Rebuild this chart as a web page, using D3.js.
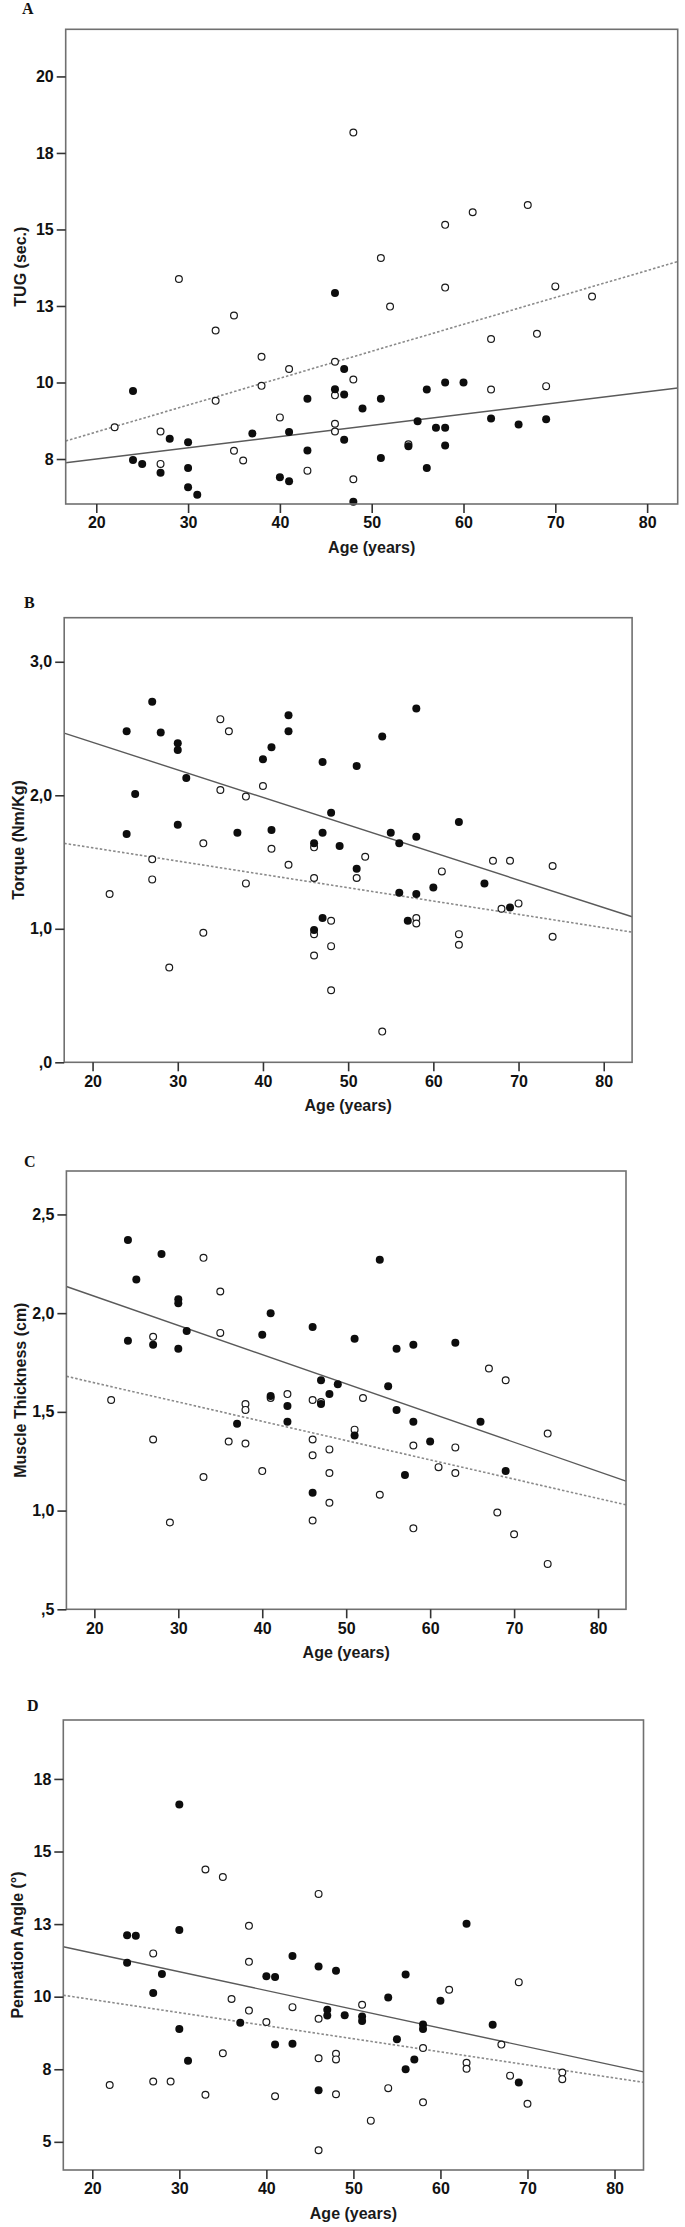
<!DOCTYPE html>
<html>
<head>
<meta charset="utf-8">
<script src="https://cdn.jsdelivr.net/npm/d3@7"></script>
<style>
  html, body { margin: 0; padding: 0; background: #fff; }
  svg { display: block; }
</style>
</head>
<body>
<svg id="chart" width="685" height="2227"></svg>
<script>
// ---------------- DATA ----------------
const ageTicks = [20, 30, 40, 50, 60, 70, 80];

// Panel A – TUG (sec.)
const tugTicks = [7.5, 10, 12.5, 15, 17.5, 20];
const tugTickLabels = ["8", "10", "13", "15", "18", "20"];
const tugFilled = [[24,9.72],[24,7.47],[25,7.34],[27,7.05],[28,8.16],[30,8.05],[30,7.21],[30,6.58],[31,6.33],
  [37,8.33],[40,6.9],[41,6.77],[41,8.38],[43,9.47],[43,7.78],[46,12.92],[46,9.78],[47,10.44],[47,9.61],[47,8.13],
  [48,6.1],[49,9.15],[51,9.47],[51,7.53],[54,7.92],[55,8.73],[56,9.77],[56,7.21],[57,8.52],[58,8.52],[58,7.94],
  [58,10.0],[60,10.0],[63,8.82],[66,8.63],[69,8.8]];
const tugOpen = [[29,13.38],[33,11.7],[35,12.19],[38,10.84],[38,9.89],[33,9.4],[41,10.44],[46,10.68],[48,10.1],
  [46,9.58],[40,8.86],[46,8.65],[46,8.4],[22,8.54],[27,8.4],[27,7.34],[35,7.77],[36,7.45],[43,7.12],[48,6.84],
  [52,12.48],[58,13.1],[70,13.14],[74,12.81],[63,11.42],[68,11.59],[63,9.77],[69,9.88],[54,7.98],
  [48,18.17],[51,14.07],[58,15.15],[61,15.56],[67,15.8]];
const tugFitFilled = [[16.67,7.38],[83.33,9.82]];
const tugFitOpen = [[16.67,8.09],[83.33,13.95]];

// Panel B – Torque (Nm/Kg)
const torqueTicks = [0, 1, 2, 3];
const torqueTickLabels = [",0", "1,0", "2,0", "3,0"];
const torqueFilled = [[27,2.70],[24,2.48],[28,2.47],[30,2.39],[30,2.34],[31,2.13],[25,2.01],[30,1.78],[24,1.71],
  [37,1.72],[41,2.36],[40,2.27],[43,2.6],[43,2.48],[41,1.74],[47,2.25],[47,1.72],[48,1.87],[51,2.22],[54,2.44],
  [58,2.65],[55,1.72],[58,1.69],[63,1.80],[46,1.64],[49,1.62],[51,1.45],[56,1.64],[56,1.27],[58,1.26],[60,1.31],
  [66,1.34],[69,1.16],[47,1.08],[46,0.99],[57,1.06]];
const torqueOpen = [[35,2.57],[36,2.48],[35,2.04],[38,1.99],[40,2.07],[33,1.64],[41,1.6],[46,1.61],[27,1.52],
  [43,1.48],[52,1.54],[27,1.37],[38,1.34],[46,1.38],[51,1.38],[22,1.26],[61,1.43],[67,1.51],[69,1.51],[74,1.47],
  [68,1.15],[70,1.19],[48,1.06],[58,1.08],[58,1.04],[33,0.97],[46,0.96],[63,0.96],[63,0.88],[48,0.87],[46,0.80],
  [29,0.71],[48,0.54],[54,0.23],[74,0.94]];
const torqueFitFilled = [[16.67,2.465],[83.33,1.09]];
const torqueFitOpen = [[16.67,1.64],[83.33,0.975]];

// Panel C – Muscle Thickness (cm)
const thickTicks = [0.5, 1, 1.5, 2, 2.5];
const thickTickLabels = [",5", "1,0", "1,5", "2,0", "2,5"];
const thickFilled = [[24,2.37],[28,2.30],[25,2.17],[30,2.07],[30,2.05],[31,1.91],[24,1.86],[27,1.84],[30,1.82],
  [41,2.0],[40,1.89],[46,1.93],[51,1.87],[54,2.27],[56,1.82],[58,1.84],[63,1.85],[47,1.66],[49,1.64],[48,1.59],
  [55,1.63],[41,1.58],[47,1.54],[43,1.53],[43,1.45],[37,1.44],[56,1.51],[58,1.45],[66,1.45],[51,1.38],[60,1.35],
  [57,1.18],[69,1.2],[46,1.09]];
const thickOpen = [[33,2.28],[35,2.11],[35,1.90],[27,1.88],[67,1.72],[69,1.66],[22,1.56],[43,1.59],[46,1.56],
  [52,1.57],[41,1.57],[47,1.55],[38,1.54],[38,1.51],[51,1.41],[27,1.36],[36,1.35],[38,1.34],[46,1.36],[48,1.31],
  [46,1.28],[58,1.33],[63,1.32],[61,1.22],[63,1.19],[40,1.2],[48,1.19],[33,1.17],[74,1.39],[54,1.08],[48,1.04],
  [68,0.99],[29,0.94],[46,0.95],[58,0.91],[70,0.88],[74,0.73]];
const thickFitFilled = [[16.67,2.135],[83.33,1.149]];
const thickFitOpen = [[16.67,1.68],[83.33,1.029]];

// Panel D – Pennation Angle (°)
const pennTicks = [5, 7.5, 10, 12.5, 15, 17.5];
const pennTickLabels = ["5", "8", "10", "13", "15", "18"];
const pennFilled = [[30,16.62],[24,12.12],[25,12.1],[30,12.3],[63,12.51],[24,11.17],[28,10.78],[27,10.13],
  [43,11.4],[46,11.04],[48,10.89],[40,10.7],[41,10.68],[56,10.76],[54,9.97],[60,9.86],[47,9.55],[47,9.35],
  [49,9.36],[51,9.32],[51,9.16],[37,9.1],[58,9.04],[58,8.89],[66,9.03],[30,8.89],[55,8.53],[41,8.35],[43,8.38],
  [31,7.79],[57,7.84],[56,7.5],[69,7.04],[46,6.78]];
const pennOpen = [[33,14.38],[35,14.12],[46,13.54],[38,12.44],[27,11.49],[38,11.2],[69,10.5],[61,10.24],[36,9.92],
  [51,9.72],[43,9.64],[38,9.52],[40,9.13],[46,9.24],[35,8.05],[46,7.88],[48,8.03],[48,7.84],[58,8.23],[67,8.35],
  [63,7.72],[63,7.52],[68,7.28],[74,7.39],[74,7.16],[22,6.96],[27,7.08],[29,7.08],[33,6.62],[41,6.57],[48,6.64],
  [54,6.85],[58,6.36],[70,6.31],[52,5.73],[46,4.71]];
const pennFitFilled = [[16.67,11.72],[83.33,7.41]];
const pennFitOpen = [[16.67,10.05],[83.33,7.05]];

// ---------------- LAYOUT ----------------
const ageDomain = [16.67, 83.33];
const panels = [
  { letter: "A", lx: 22, ly: 14, left: 65.7, right: 677.7, top: 29.3, bottom: 504, yDomain: [6.03, 21.54],
    ticks: tugTicks, labels: tugTickLabels, title: "TUG (sec.)",
    filled: tugFilled, open: tugOpen, fitF: tugFitFilled, fitO: tugFitOpen },
  { letter: "B", lx: 24, ly: 608, left: 64.2, right: 632.1, top: 617.7, bottom: 1062.3, yDomain: [0, 3.33],
    ticks: torqueTicks, labels: torqueTickLabels, title: "Torque (Nm/Kg)",
    filled: torqueFilled, open: torqueOpen, fitF: torqueFitFilled, fitO: torqueFitOpen },
  { letter: "C", lx: 24, ly: 1167, left: 66.4, right: 626, top: 1171, bottom: 1609.3, yDomain: [0.5, 2.72],
    ticks: thickTicks, labels: thickTickLabels, title: "Muscle Thickness (cm)",
    filled: thickFilled, open: thickOpen, fitF: thickFitFilled, fitO: thickFitOpen },
  { letter: "D", lx: 27, ly: 1711, left: 63.3, right: 643.5, top: 1720, bottom: 2170, yDomain: [4.03, 19.53],
    ticks: pennTicks, labels: pennTickLabels, title: "Pennation Angle (°)",
    filled: pennFilled, open: pennOpen, fitF: pennFitFilled, fitO: pennFitOpen }
];

const svg = d3.select("#chart");
svg.append("rect").attr("width", 685).attr("height", 2227).attr("fill", "#fff");

const tickFont = "'Liberation Sans', Arial, Helvetica, sans-serif";

panels.forEach(p => {
  const x = d3.scaleLinear().domain(ageDomain).range([p.left, p.right]);
  const y = d3.scaleLinear().domain(p.yDomain).range([p.bottom, p.top]);
  const g = svg.append("g");

  // panel letter
  g.append("text").attr("x", p.lx).attr("y", p.ly)
    .attr("font-family", "'Liberation Serif', 'Times New Roman', serif")
    .attr("font-weight", "bold").attr("font-size", 16).attr("fill", "#111")
    .text(p.letter);

  // regression lines
  const line = d3.line().x(d => x(d[0])).y(d => y(d[1]));
  g.append("path").attr("d", line(p.fitO)).attr("fill", "none")
    .attr("stroke", "#8a8a8a").attr("stroke-width", 1.6).attr("stroke-dasharray", "2.5,2");
  g.append("path").attr("d", line(p.fitF)).attr("fill", "none")
    .attr("stroke", "#5a5a5a").attr("stroke-width", 1.4);

  // points
  g.selectAll(".o").data(p.open).enter().append("circle")
    .attr("cx", d => x(d[0])).attr("cy", d => y(d[1])).attr("r", 3.4)
    .attr("fill", "#fff").attr("stroke", "#1a1a1a").attr("stroke-width", 1.2);
  g.selectAll(".f").data(p.filled).enter().append("circle")
    .attr("cx", d => x(d[0])).attr("cy", d => y(d[1])).attr("r", 4)
    .attr("fill", "#0d0d0d");

  // frame
  g.append("rect").attr("x", p.left).attr("y", p.top)
    .attr("width", p.right - p.left).attr("height", p.bottom - p.top)
    .attr("fill", "none").attr("stroke", "#707070").attr("stroke-width", 1.6);

  // y axis
  const yAxis = d3.axisLeft(y).tickValues(p.ticks).tickSize(9).tickPadding(3)
    .tickFormat((d, i) => p.labels[i]);
  const ya = g.append("g").attr("transform", `translate(${p.left},0)`).call(yAxis);
  ya.select(".domain").remove();
  ya.selectAll(".tick line").attr("stroke", "#333").attr("stroke-width", 1.6);
  ya.selectAll(".tick text").attr("font-family", tickFont).attr("font-weight", "bold")
    .attr("font-size", 16).attr("fill", "#111");

  // x axis
  const xAxis = d3.axisBottom(x).tickValues(ageTicks).tickSize(9).tickPadding(4)
    .tickFormat(d3.format("d"));
  const xa = g.append("g").attr("transform", `translate(0,${p.bottom})`).call(xAxis);
  xa.select(".domain").remove();
  xa.selectAll(".tick line").attr("stroke", "#333").attr("stroke-width", 1.6);
  xa.selectAll(".tick text").attr("font-family", tickFont).attr("font-weight", "bold")
    .attr("font-size", 16).attr("fill", "#111");

  // axis titles
  g.append("text").attr("x", (p.left + p.right) / 2).attr("y", p.bottom + 49)
    .attr("text-anchor", "middle").attr("font-family", tickFont).attr("font-weight", "bold")
    .attr("font-size", 16).attr("fill", "#1a1a1a").text("Age (years)");
  g.append("text")
    .attr("transform", `translate(${p.left - 40},${(p.top + p.bottom) / 2}) rotate(-90)`)
    .attr("text-anchor", "middle").attr("font-family", tickFont).attr("font-weight", "bold")
    .attr("font-size", 16).attr("fill", "#1a1a1a").text(p.title);
});
</script>
</body>
</html>
